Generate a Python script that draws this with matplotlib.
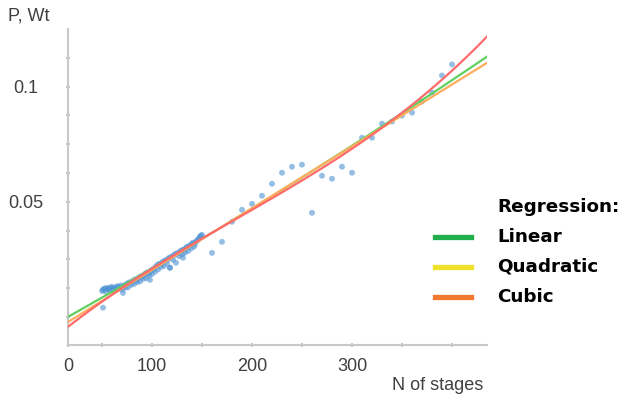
import numpy as np
from matplotlib import pyplot as plt
from matplotlib.lines import Line2D

# dense part of the measurements (N of stages, P in Wt)
N_dense = [50, 52, 54, 56, 58, 60, 62, 64, 66, 68, 70, 72, 74, 76, 78, 80,
           82, 84, 86, 88, 90, 92, 94, 96, 98, 100, 102, 104, 106, 108, 110,
           112, 114, 116, 118, 120, 122, 124, 126, 128, 130, 132, 134, 136,
           138, 140, 142, 144, 146, 148, 150]
P_dense = [0.0112, 0.0118, 0.0110, 0.0121, 0.0124, 0.0116, 0.0127,
           0.0122, 0.0131, 0.0126, 0.0119, 0.0134, 0.0140, 0.0128, 0.0147,
           0.0152, 0.0143, 0.0160, 0.0166, 0.0154, 0.0175, 0.0181, 0.0168,
           0.0190, 0.0197, 0.0186, 0.0210, 0.0218, 0.0206, 0.0229, 0.0234,
           0.0221, 0.0246, 0.0251, 0.0214, 0.0262, 0.0268, 0.0235, 0.0277,
           0.0283, 0.0272, 0.0293, 0.0300, 0.0286, 0.0311, 0.0318, 0.0305,
           0.0327, 0.0335, 0.0349, 0.0356]
N_dense2 = [51, 53, 55, 57, 59, 61, 63, 65, 67, 69, 71, 73, 75, 77, 79,
            81, 83, 85, 87, 89, 91, 93, 95, 97, 99, 101, 103, 105, 107, 109,
            111, 113, 115, 117, 119, 121, 123, 125, 127, 129, 131, 133, 135,
            137, 139, 141, 143, 145, 147, 149]
P_dense2 = [0.0120, 0.0124, 0.0126, 0.0119, 0.0130, 0.0128, 0.0118,
            0.0133, 0.0124, 0.0137, 0.0131, 0.0127, 0.0144, 0.0150, 0.0139,
            0.0157, 0.0163, 0.0151, 0.0171, 0.0177, 0.0165, 0.0187, 0.0193,
            0.0180, 0.0202, 0.0207, 0.0196, 0.0224, 0.0230, 0.0217, 0.0240,
            0.0244, 0.0232, 0.0256, 0.0259, 0.0248, 0.0272, 0.0276, 0.0264,
            0.0288, 0.0291, 0.0279, 0.0304, 0.0307, 0.0297, 0.0322, 0.0316,
            0.0331, 0.0342, 0.0353]
# a few points under the band
N_low = [51, 71, 98, 118, 131]
P_low = [0.0040, 0.0104, 0.0161, 0.0213, 0.0257]
# sparse part
N_sparse = [160, 170, 180, 190, 200, 210, 220, 230, 240, 250, 260, 270, 280,
            290, 300, 310, 320, 330, 340, 350, 360, 370, 380, 390, 400]
P_sparse = [0.0278, 0.0326, 0.0413, 0.0465, 0.0491, 0.0526, 0.0578, 0.0626,
            0.0652, 0.0661, 0.0452, 0.0613, 0.0600, 0.0652, 0.0626, 0.0778,
            0.0778, 0.0839, 0.0848, 0.0874, 0.0887, 0.0935, 0.0974, 0.1048,
            0.1096]

# regression curves, polynomial coefficients in (N - N0)
N0 = 16
fits = ['Linear', 'Quadratic', 'Cubic']
coefs = [[5.92e-8, 2.449e-4, 0.0],
         [2.685e-4, -0.0022],
         [1.0596e-9, -5.338e-7, 3.3836e-4, -0.0043]]
line_colors = ['#5fcf5f', '#ffad5c', '#ff6b6b']
legend_colors = ['#1fae4a', '#f0e22a', '#f2782f']

N = np.array(N_dense + N_dense2 + N_low + N_sparse)
P = np.array(P_dense + P_dense2 + P_low + P_sparse)

plt.rcParams['font.family'] = ['Liberation Sans', 'DejaVu Sans']

fig = plt.figure(figsize=(6.23, 3.99), dpi=100)
ax = fig.add_axes([68/623, 54/399, 419/623, 316/399])

ax.scatter(N, P, s=18, color='#4f94d4', alpha=0.6, edgecolors='none', zorder=2)

xx = np.linspace(16, 435, 300)
for c, col in zip(coefs, line_colors):
    ax.plot(xx, np.polyval(c, xx - N0), color=col, lw=1.6, zorder=3)

ax.set_xlim(16, 435)
ax.set_ylim(-0.0122, 0.125)

for s in ['top', 'right']:
    ax.spines[s].set_visible(False)
for s in ['left', 'bottom']:
    ax.spines[s].set_color('#c8c8c8')
    ax.spines[s].set_linewidth(1.5)

ax.set_xticks([16, 100, 200, 300])
ax.set_xticklabels(['0', '100', '200', '300'])
ax.set_xticks(np.arange(50, 435, 50), minor=True)
ax.set_yticks([0.05, 0.1])
ax.set_yticklabels(['0.05', '0.1'])
ax.set_yticks(np.arange(0, 0.124, 0.0125), minor=True)
ax.tick_params(which='both', direction='inout', length=3, color='#bbbbbb',
               width=1.2, labelsize=13, labelcolor='#404040')
ax.tick_params(axis='x', which='major', pad=8)
ax.tick_params(axis='y', which='major', pad=29)
for lbl in ax.get_yticklabels():
    lbl.set_horizontalalignment('center')

fig.text(8/623, 1 - 16/399, 'P, Wt', fontsize=13, color='#404040', va='center')
fig.text(483/623, 1 - 386/399, 'N of stages', fontsize=13, color='#404040',
         va='center', ha='right')

# legend
fig.text(497/623, 1 - 207/399, 'Regression:', fontsize=13.2, fontweight='bold',
         family='DejaVu Sans', va='center')
ys = [237, 267, 297]
for name, col, y in zip(fits, legend_colors, ys):
    fig.add_artist(Line2D([435/623, 471/623], [1 - y/399, 1 - y/399],
                          color=col, lw=3.8, transform=fig.transFigure))
    fig.text(497/623, 1 - y/399, name, fontsize=13.2, fontweight='bold',
             family='DejaVu Sans', va='center')

fig.savefig('out.png', dpi=100)
